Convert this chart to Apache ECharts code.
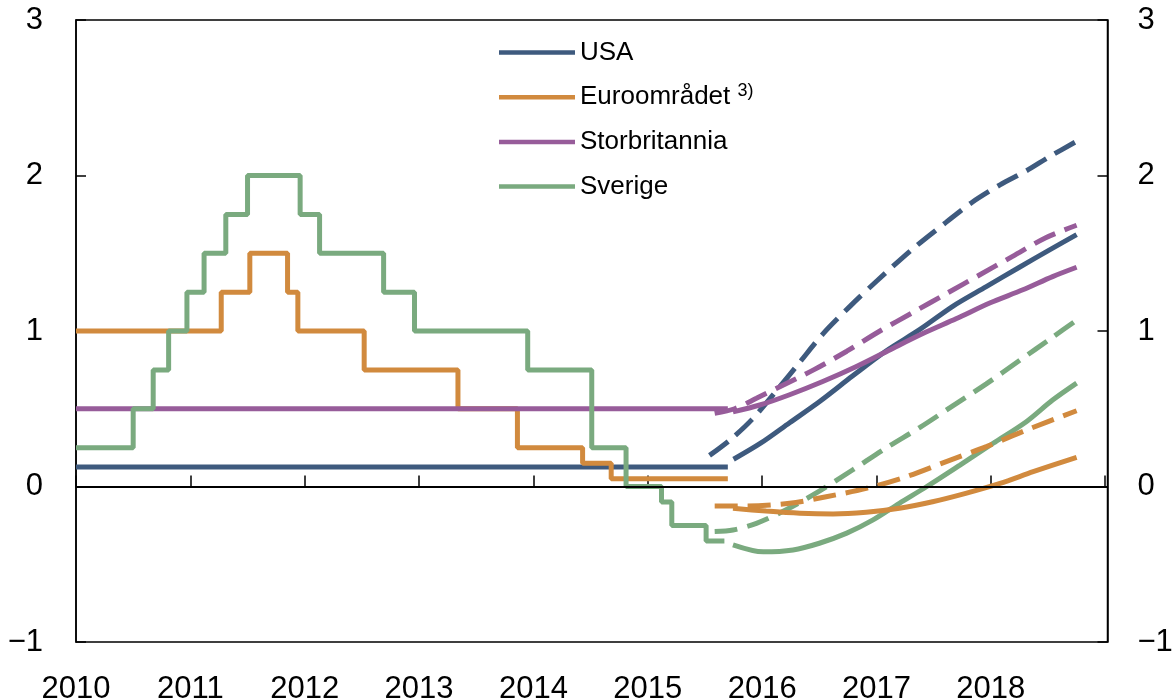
<!DOCTYPE html>
<html>
<head>
<meta charset="utf-8">
<script src="https://cdn.jsdelivr.net/npm/echarts@6/dist/echarts.min.js"></script>
<style>
html, body { margin: 0; padding: 0; background: #fff; }
#chart { width: 1175px; height: 699px; }
</style>
</head>
<body>
<div id="chart"></div>
<script>
// policy rates, history (step lines) - [year, percent]
var usaHist = [[2010, 0.125], [2015.70, 0.125]];
var euroHist = [[2010, 1.0], [2011.27, 1.25], [2011.52, 1.5], [2011.85, 1.25], [2011.94, 1.0], [2012.52, 0.75],
	[2013.34, 0.5], [2013.86, 0.25], [2014.43, 0.15], [2014.68, 0.05], [2015.70, 0.05]];
var ukHist = [[2010, 0.5], [2015.70, 0.5]];
var sweHist = [[2010, 0.25], [2010.50, 0.5], [2010.675, 0.75], [2010.81, 1.0], [2010.97, 1.25], [2011.12, 1.5],
	[2011.31, 1.75], [2011.50, 2.0], [2011.96, 1.75], [2012.13, 1.5], [2012.69, 1.25], [2012.96, 1.0],
	[2013.95, 0.75], [2014.51, 0.25], [2014.81, 0], [2015.12, -0.1], [2015.21, -0.25], [2015.51, -0.35], [2015.67, -0.35]];

// forward rates, dashed (earlier) and solid (later)
var usaDash = [[2015.54, 0.20], [2015.72, 0.30], [2015.91, 0.43], [2016.13, 0.62], [2016.33, 0.80], [2016.53, 0.98],
	[2016.77, 1.16], [2017.0, 1.32], [2017.32, 1.53], [2017.61, 1.70], [2017.84, 1.83], [2018.08, 1.94],
	[2018.31, 2.03], [2018.51, 2.12], [2018.75, 2.22]];
var usaSolid = [[2015.75, 0.175], [2015.99, 0.28], [2016.24, 0.41], [2016.50, 0.545], [2016.79, 0.71], [2017.08, 0.87],
	[2017.38, 1.01], [2017.67, 1.16], [2017.96, 1.285], [2018.25, 1.41], [2018.51, 1.52], [2018.75, 1.62]];
var ukDash = [[2015.585, 0.47], [2015.76, 0.50], [2015.95, 0.567], [2016.15, 0.64], [2016.45, 0.75], [2016.74, 0.87],
	[2017.03, 1.0], [2017.32, 1.12], [2017.61, 1.24], [2017.90, 1.36], [2018.19, 1.48], [2018.48, 1.60], [2018.75, 1.68]];
var ukSolid = [[2015.745, 0.48], [2015.98, 0.524], [2016.24, 0.59], [2016.53, 0.675], [2016.82, 0.77], [2017.12, 0.88],
	[2017.41, 0.985], [2017.70, 1.08], [2017.99, 1.18], [2018.28, 1.265], [2018.54, 1.35], [2018.75, 1.41]];
var sweDash = [[2015.585, -0.29], [2015.745, -0.28], [2015.95, -0.237], [2016.21, -0.15], [2016.50, -0.03], [2016.79, 0.106],
	[2017.08, 0.246], [2017.38, 0.38], [2017.67, 0.52], [2017.96, 0.66], [2018.25, 0.81], [2018.54, 0.96], [2018.75, 1.07]];
var sweSolid = [[2015.745, -0.375], [2016.01, -0.42], [2016.27, -0.408], [2016.50, -0.365], [2016.74, -0.30], [2016.97, -0.215],
	[2017.20, -0.108], [2017.44, 0], [2017.73, 0.138], [2018.02, 0.278], [2018.31, 0.417], [2018.54, 0.556], [2018.75, 0.665]];
var euroDash = [[2015.585, -0.125], [2015.86, -0.125], [2016.24, -0.108], [2016.56, -0.066], [2016.91, -0.012], [2017.26, 0.063],
	[2017.61, 0.16], [2017.96, 0.256], [2018.31, 0.363], [2018.75, 0.487]];
var euroSolid = [[2015.745, -0.14], [2016.035, -0.158], [2016.33, -0.172], [2016.62, -0.177], [2016.91, -0.166], [2017.20, -0.14],
	[2017.49, -0.098], [2017.78, -0.044], [2018.08, 0.02], [2018.37, 0.095], [2018.75, 0.188]];

var names = ['USA', 'Euroområdet', 'Storbritannia', 'Sverige'];
var colors = ['#3e5a7e', '#d18a3e', '#975c9a', '#7aaa7f'];

var myChart = echarts.init(document.getElementById('chart'));
var font = 'Liberation Sans, Arial, sans-serif';

function histSeries(i, data) {
	return {
		name: names[i], type: 'line', step: 'end', data: data, showSymbol: false,
		lineStyle: { color: colors[i], width: 5 }, itemStyle: { color: colors[i] }, z: 3
	};
}
function fwdSeries(i, data, dashed) {
	return {
		name: names[i] + (dashed ? ' terminrente 1' : ' terminrente 2'), type: 'line', smooth: 0.3, data: data, showSymbol: false,
		lineStyle: { color: colors[i], width: 5, type: dashed ? [23, 10] : 'solid' }, itemStyle: { color: colors[i] }, z: 3
	};
}

var series = [
	histSeries(0, usaHist), histSeries(1, euroHist), histSeries(2, ukHist), histSeries(3, sweHist),
	fwdSeries(0, usaDash, true), fwdSeries(0, usaSolid, false),
	fwdSeries(2, ukDash, true), fwdSeries(2, ukSolid, false),
	fwdSeries(3, sweDash, true), fwdSeries(3, sweSolid, false),
	fwdSeries(1, euroDash, true), fwdSeries(1, euroSolid, false)
];
// zero line
series[0].markLine = {
	silent: true, symbol: 'none', label: { show: false },
	lineStyle: { color: '#000', width: 2, type: 'solid' },
	data: [{ yAxis: 0 }]
};

function yLabel(v) { return v < 0 ? '\u2212' + (-v) : String(v); }

var yAxisBase = {
	type: 'value', min: -1, max: 3, interval: 1,
	axisLine: { show: true, lineStyle: { color: '#000', width: 1.5 } },
	axisTick: { show: true, inside: true, length: 10, lineStyle: { color: '#000', width: 1.5 } },
	splitLine: { show: false },
	axisLabel: { color: '#000', fontSize: 31, fontFamily: font, formatter: yLabel }
};

var option = {
	animation: false,
	backgroundColor: '#fff',
	grid: { left: 76, right: 67.5, top: 20, bottom: 57, show: true, borderColor: '#000', borderWidth: 1.5,
		containLabel: false, outerBoundsMode: 'none' },
	legend: {
		data: names, orient: 'vertical', left: 499, top: 37, padding: 0,
		icon: 'rect', itemWidth: 76, itemHeight: 4.5, itemGap: 13.7,
		formatter: function (name) { return name === 'Euroområdet' ? 'Euroområdet {sup|3)}' : name; },
		textStyle: {
			color: '#000', fontSize: 26, fontFamily: font, lineHeight: 31,
			rich: { sup: { fontSize: 18, fontFamily: font, color: '#000', verticalAlign: 'top', lineHeight: 16 } }
		}
	},
	xAxis: {
		type: 'value', min: 2010, max: 2019.02, interval: 1,
		axisLine: { show: true, lineStyle: { color: '#000', width: 1.5 } },
		axisTick: { show: true, inside: true, length: 11, lineStyle: { color: '#000', width: 1.5 } },
		splitLine: { show: false },
		axisLabel: {
			color: '#000', fontSize: 31, fontFamily: font, margin: 32, showMaxLabel: false,
			formatter: function (v) { return v < 2019 ? String(v) : ''; }
		}
	},
	yAxis: [
		Object.assign({}, yAxisBase, { position: 'left', axisLabel: Object.assign({}, yAxisBase.axisLabel, { margin: 33 }) }),
		Object.assign({}, yAxisBase, { position: 'right', axisLabel: Object.assign({}, yAxisBase.axisLabel, { margin: 30 }) })
	],
	series: series
};
myChart.setOption(option);
</script>
</body>
</html>
